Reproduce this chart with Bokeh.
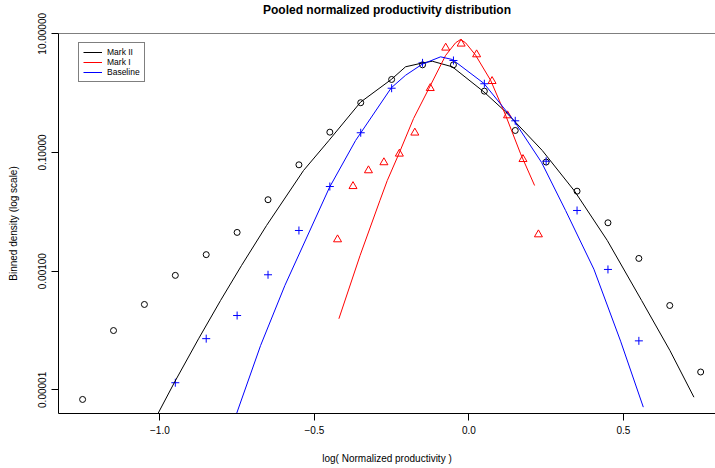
from bokeh.plotting import figure
from bokeh.models import Range1d, FixedTicker, Span, Legend, LegendItem, Title
from bokeh.embed import file_html
from bokeh.resources import INLINE

# ---- data ----
mark2_x = [-1.25, -1.15, -1.05, -0.95, -0.85, -0.75, -0.65, -0.55, -0.45, -0.35, -0.25,
           -0.15, -0.05, 0.05, 0.15, 0.25, 0.35, 0.45, 0.55, 0.65, 0.75]
mark2_y = [6.9e-6, 1.0e-4, 2.75e-4, 8.5e-4, 1.9e-3, 4.5e-3, 0.016, 0.062, 0.22, 0.69, 1.70,
           3.0, 3.0, 1.08, 0.235, 0.069, 0.0223, 0.00654, 1.64e-3, 2.64e-4, 2.0e-5]

base_x = [-0.95, -0.85, -0.75, -0.65, -0.55, -0.45, -0.35, -0.25, -0.15, -0.05, 0.05,
          0.15, 0.25, 0.35, 0.45, 0.55]
base_y = [1.32e-5, 7.3e-5, 1.79e-4, 8.7e-4, 4.85e-3, 0.0267, 0.215, 1.21, 3.24, 3.55, 1.44,
          0.342, 0.0713, 0.01054, 1.07e-3, 6.7e-5]

mark1_x = [-0.425, -0.375, -0.325, -0.275, -0.225, -0.175, -0.125, -0.075, -0.025, 0.025,
           0.075, 0.125, 0.175, 0.225]
mark1_y = [3.42e-3, 0.027, 0.0498, 0.068, 0.095, 0.215, 1.21, 5.81, 6.79, 4.48,
           1.59, 0.42, 0.077, 4.15e-3]

# fitted curves
mark2_fit_x = [-1.0065, -0.9524, -0.8748, -0.8036, -0.7356, -0.6547, -0.5350, -0.4531,
               -0.3505, -0.2511, -0.2049, -0.1508, -0.1184, -0.0537, 0.0485, 0.1188,
               0.2375, 0.3421, 0.4479, 0.5589, 0.6505, 0.7282]
mark2_fit_y = [3.95e-6, 1.35e-5, 7.26e-5, 3.21e-4, 1.25e-3, 5.89e-3, 0.0498, 0.159,
               0.705, 1.70, 2.78, 3.22, 3.45, 2.78, 1.05, 0.485,
               0.108, 0.0223, 3.29e-3, 3.21e-4, 4.61e-5, 7.53e-6]

base_fit_x = [-0.752, -0.674, -0.5955, -0.4508, -0.3667, -0.2511, -0.2049, -0.1508, -0.0916,
              -0.0537, 0.0485, 0.1456, 0.2353, 0.3129, 0.4045, 0.4909, 0.5644]
base_fit_y = [3.95e-6, 5.60e-5, 5.74e-4, 0.0260, 0.159, 1.23, 2.00, 3.08, 4.09,
              3.69, 1.46, 0.346, 0.0679, 0.01054, 1.08e-3, 6.62e-5, 5.12e-6]

mark1_fit_x = [-0.4207, -0.3521, -0.2880, -0.2641, -0.2265, -0.1790, -0.1294, -0.0754,
               -0.0430, -0.0269, -0.0107, 0.0217, 0.0702, 0.1188, 0.1673, 0.2126]
mark1_fit_y = [1.58e-4, 1.84e-3, 0.0155, 0.0337, 0.0951, 0.374, 1.20, 4.31,
               7.05, 8.02, 7.05, 4.36, 1.65, 0.425, 0.0951, 0.0278]

x_ticks = [-1.0, -0.5, 0.0, 0.5]
x_tick_labels = ["\u22121.0", "\u22120.5", "0.0", "0.5"]
y_ticks = [10.0, 0.1, 0.001, 0.00001]
y_tick_labels = ["10.00000", "0.10000", "0.00100", "0.00001"]

FONT = "Liberation Sans"

p = figure(width=715, height=468, y_axis_type="log",
           x_range=Range1d(-1.328, 0.798),
           y_range=Range1d(10 ** -5.398, 10 ** 1.005),
           output_backend="svg", toolbar_location=None,
           min_border_left=58, min_border_right=0, min_border_top=10, min_border_bottom=55)

p.background_fill_color = "white"
p.border_fill_color = "white"
p.outline_line_color = None
p.grid.visible = False

# spacer panel next to the frame, then the real title at the very top
spacer = Title(text=" ", text_font=FONT, text_font_size="10px", standoff=4,
               text_color="white")
p.add_layout(spacer, "above")
title = Title(text="Pooled normalized productivity distribution", text_font=FONT,
              text_font_size="12px", text_font_style="bold", text_color="black",
              align="center", standoff=0)
p.add_layout(title, "above")

for ax in (p.xaxis[0], p.yaxis[0]):
    ax.axis_line_color = "black"
    ax.axis_line_width = 1
    ax.major_tick_line_color = "black"
    ax.major_tick_out = 7
    ax.major_tick_in = 0
    ax.minor_tick_line_color = None
    ax.major_label_text_font = FONT
    ax.major_label_text_font_size = "10px"
    ax.major_label_text_color = "black"
    ax.axis_label_text_font = FONT
    ax.axis_label_text_font_size = "10px"
    ax.axis_label_text_font_style = "normal"
    ax.axis_label_text_color = "black"

p.xaxis.ticker = FixedTicker(ticks=x_ticks)
p.xaxis.major_label_overrides = dict(zip(x_ticks, x_tick_labels))
p.xaxis.axis_label = "log( Normalized productivity )"
p.xaxis.major_label_standoff = 5
p.xaxis.axis_label_standoff = 16

p.yaxis.ticker = FixedTicker(ticks=y_ticks)
p.yaxis.major_label_overrides = dict(zip(y_ticks, y_tick_labels))
p.yaxis.major_label_orientation = "vertical"
p.yaxis.axis_label = "Binned density (log scale)"
p.yaxis.major_label_standoff = 5
p.yaxis.axis_label_standoff = 17

# top box line
p.add_layout(Span(location=10 ** 1.005, dimension="width", line_color="black", line_width=1))

# points
p.scatter(mark2_x, mark2_y, marker="circle", size=6, fill_color=None,
          line_color="black", line_width=1)
p.scatter(mark1_x, mark1_y, marker="triangle", size=8, fill_color=None,
          line_color="#FF0000", line_width=1)
p.scatter(base_x, base_y, marker="cross", size=8,
          line_color="#0000FF", line_width=1)

# fitted lines
l2 = p.line(mark2_fit_x, mark2_fit_y, line_color="black", line_width=1)
l1 = p.line(mark1_fit_x, mark1_fit_y, line_color="#FF0000", line_width=1)
lb = p.line(base_fit_x, base_fit_y, line_color="#0000FF", line_width=1)

legend = Legend(items=[LegendItem(label="Mark II", renderers=[l2]),
                       LegendItem(label="Mark I", renderers=[l1]),
                       LegendItem(label="Baseline", renderers=[lb])],
                location=(20, 331))
legend.border_line_color = "black"
legend.border_line_width = 1
legend.background_fill_alpha = 1
legend.label_text_font = FONT
legend.label_text_font_size = "8.5px"
legend.label_text_color = "black"
legend.padding = 4
legend.margin = 0
legend.spacing = 0
legend.glyph_width = 19
legend.glyph_height = 10
legend.label_height = 10
legend.label_standoff = 5
p.add_layout(legend, "center")

open("out.html", "w").write(file_html(p, INLINE))
